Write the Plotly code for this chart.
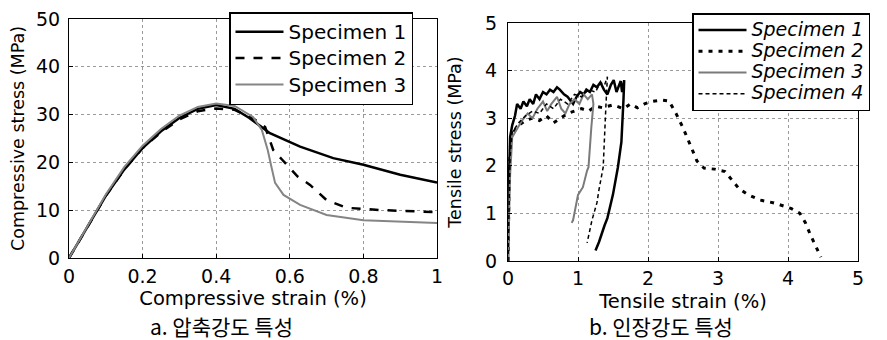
import plotly.graph_objects as go

# ---------------- data: compressive test ----------------
comp_strain_1 = [0, 0.05, 0.1, 0.15, 0.2, 0.25, 0.3, 0.35, 0.4, 0.45, 0.49, 0.546, 0.628, 0.718, 0.8, 0.9, 1.0]
comp_stress_1 = [0, 6.5, 13, 18.5, 23, 26.5, 29.3, 31.2, 32.0, 31.2, 29.3, 26.1, 23.3, 20.9, 19.5, 17.4, 15.8]

comp_strain_2 = [0, 0.05, 0.1, 0.15, 0.2, 0.25, 0.3, 0.35, 0.4, 0.45, 0.5, 0.533, 0.555, 0.58, 0.622, 0.655, 0.7, 0.755, 0.853, 1.0]
comp_stress_2 = [0, 6.5, 13, 18.5, 23, 26.3, 29, 30.7, 31.3, 31.0, 29.2, 27.4, 22.6, 20.5, 17, 15.3, 12.1, 10.5, 10.0, 9.6]

comp_strain_3 = [0, 0.05, 0.1, 0.15, 0.2, 0.25, 0.3, 0.35, 0.4, 0.45, 0.5, 0.524, 0.54, 0.55, 0.56, 0.583, 0.628, 0.7, 0.8, 1.0]
comp_stress_3 = [0, 6.7, 13.3, 19, 23.5, 27, 29.8, 31.6, 32.3, 31.8, 29.5, 26.8, 22.6, 19.1, 15.7, 13.2, 11.1, 9.0, 7.9, 7.3]

# ---------------- data: tensile test ----------------
ten_strain_1 = [0, 0.01, 0.03, 0.06, 0.1, 0.13, 0.18, 0.22, 0.27, 0.31, 0.36, 0.4, 0.45, 0.5, 0.55, 0.6, 0.65,
                0.7, 0.74, 0.8, 0.85, 0.9, 0.93, 0.98, 1.03, 1.08, 1.12, 1.17, 1.22, 1.27, 1.32, 1.37, 1.42,
                1.47, 1.51, 1.55, 1.58, 1.61, 1.63, 1.66, 1.65, 1.62, 1.57, 1.5, 1.42, 1.38, 1.3, 1.25]
ten_stress_1 = [0, 1.5, 2.6, 2.85, 3.05, 3.3, 3.2, 3.35, 3.25, 3.4, 3.3, 3.5, 3.4, 3.55, 3.5, 3.6, 3.55,
                3.65, 3.6, 3.5, 3.45, 3.35, 3.3, 3.45, 3.55, 3.5, 3.6, 3.55, 3.7, 3.65, 3.75, 3.6, 3.5,
                3.7, 3.8, 3.55, 3.65, 3.78, 3.55, 3.8, 3.4, 2.5, 1.97, 1.4, 0.9, 0.75, 0.4, 0.22]

ten_strain_2 = [0, 0.02, 0.05, 0.15, 0.25, 0.35, 0.45, 0.55, 0.65, 0.75, 0.85, 0.95, 1.05, 1.15, 1.25, 1.35,
                1.5, 1.65, 1.75, 1.85, 1.95, 2.05, 2.2, 2.3, 2.4, 2.5, 2.6, 2.7, 2.8, 2.95, 3.1, 3.2, 3.3,
                3.42, 3.6, 3.8, 3.95, 4.05, 4.17, 4.25, 4.32, 4.4, 4.47]
ten_stress_2 = [0, 2.0, 2.65, 2.85, 2.95, 3.0, 2.95, 3.05, 2.9, 3.0, 3.1, 3.15, 3.2, 3.15, 3.25, 3.22,
                3.28, 3.2, 3.3, 3.22, 3.3, 3.35, 3.38, 3.36, 3.1, 2.8, 2.45, 2.1, 1.95, 1.93, 1.88, 1.7, 1.52,
                1.4, 1.28, 1.22, 1.15, 1.1, 1.0, 0.8, 0.55, 0.3, 0.08]

ten_strain_3 = [0, 0.03, 0.06, 0.12, 0.2, 0.28, 0.35, 0.42, 0.5, 0.56, 0.62, 0.7, 0.76, 0.82, 0.88, 0.95,
                1.02, 1.08, 1.14, 1.2, 1.22, 1.19, 1.17, 1.15, 1.13, 1.07, 1.0, 0.93, 0.91]
ten_stress_3 = [0, 1.8, 2.6, 2.75, 2.95, 3.1, 3.0, 3.2, 3.35, 3.15, 3.3, 3.45, 3.2, 3.1, 3.3, 3.4,
                3.3, 3.5, 3.4, 3.5, 3.3, 2.8, 2.3, 1.97, 1.9, 1.55, 1.39, 0.86, 0.8]

ten_strain_4 = [0, 0.03, 0.06, 0.15, 0.25, 0.35, 0.45, 0.55, 0.65, 0.75, 0.85, 0.95, 1.05, 1.15, 1.25,
                1.32, 1.38, 1.42, 1.4, 1.38, 1.36, 1.3, 1.27, 1.2, 1.13]
ten_stress_4 = [0, 2.2, 2.7, 2.9, 3.05, 3.15, 3.1, 3.3, 3.2, 3.4, 3.3, 3.5, 3.45, 3.6, 3.55,
                3.75, 3.7, 3.87, 3.3, 2.6, 1.97, 1.5, 1.22, 0.86, 0.38]

# ---------------- labels ----------------
comp_names = ["Specimen 1", "Specimen 2", "Specimen 3"]
ten_names = ["Specimen 1", "Specimen 2", "Specimen 3", "Specimen 4"]
comp_xticks = [0, 0.2, 0.4, 0.6, 0.8, 1]
comp_yticks = [0, 10, 20, 30, 40, 50]
ten_xticks = [0, 1, 2, 3, 4, 5]
ten_yticks = [0, 1, 2, 3, 4, 5]
comp_xtitle = "Compressive strain (%)"
comp_ytitle = "Compressive stress (MPa)"
ten_xtitle = "Tensile strain (%)"
ten_ytitle = "Tensile stress (MPa)"
caption_a = "a. 압축강도 특성"
caption_b = "b. 인장강도 특성"

W, H = 887, 340
FONT = "DejaVu Sans"

fig = go.Figure()

comp_styles = [dict(color="black", width=2.5),
               dict(color="black", width=2.5, dash="dash"),
               dict(color="#858585", width=2)]
for xs, ys, name, st in zip([comp_strain_1, comp_strain_2, comp_strain_3],
                            [comp_stress_1, comp_stress_2, comp_stress_3], comp_names, comp_styles):
    fig.add_trace(go.Scatter(x=xs, y=ys, name='<span style="font-size:20px">%s</span>' % name,
                             mode="lines", line=st, xaxis="x", yaxis="y", legend="legend"))

ten_styles = [dict(color="black", width=2.5),
              dict(color="black", width=3, dash="4px,6px"),
              dict(color="#7a7a7a", width=2),
              dict(color="black", width=1.5, dash="4px,3px")]
for xs, ys, name, st in zip([ten_strain_1, ten_strain_2, ten_strain_3, ten_strain_4],
                            [ten_stress_1, ten_stress_2, ten_stress_3, ten_stress_4], ten_names, ten_styles):
    fig.add_trace(go.Scatter(x=xs, y=ys, name='<span style="font-size:19px">%s</span>' % name,
                             mode="lines", line=st, xaxis="x2", yaxis="y2", legend="legend2"))

axis_common = dict(showline=True, linecolor="black", linewidth=1, mirror=True, automargin=False,
                   showgrid=True, gridcolor="#9a9a9a", griddash="dot", gridwidth=1,
                   zeroline=False, ticks="inside", ticklen=4, tickcolor="black",
                   tickfont=dict(family=FONT, size=19, color="black"))

fig.update_layout(
    width=W, height=H,
    margin=dict(l=0, r=0, t=0, b=0, pad=0),
    paper_bgcolor="white", plot_bgcolor="white",
    showlegend=True,
    xaxis=dict(axis_common, domain=[69 / W, 437 / W], range=[0, 1], anchor="y",
               tickvals=comp_xticks, ticktext=[str(v) for v in comp_xticks], ticklabelstandoff=1,
               title=dict(text=comp_xtitle, font=dict(family=FONT, size=19.5, color="black"), standoff=2)),
    yaxis=dict(axis_common, domain=[1 - 258 / H, 1 - 19 / H], range=[0, 50], anchor="x",
               tickvals=comp_yticks, ticktext=[str(v) for v in comp_yticks], ticklabelstandoff=4,
               title=dict(text=comp_ytitle, font=dict(family=FONT, size=17.5, color="black"), standoff=6)),
    xaxis2=dict(axis_common, domain=[508 / W, 858 / W], range=[0, 5], anchor="y2",
                tickvals=ten_xticks, ticktext=[str(v) for v in ten_xticks], ticklabelstandoff=0,
                title=dict(text=ten_xtitle, font=dict(family=FONT, size=19.5, color="black"), standoff=6)),
    yaxis2=dict(axis_common, domain=[1 - 261 / H, 1 - 23 / H], range=[0, 5], anchor="x2",
                tickvals=ten_yticks, ticktext=[str(v) for v in ten_yticks], ticklabelstandoff=6,
                title=dict(text=ten_ytitle, font=dict(family=FONT, size=17.5, color="black"), standoff=18)),
    legend=dict(x=229 / W, y=1 - 12 / H, xanchor="left", yanchor="top",
                bgcolor="white", bordercolor="black", borderwidth=1.5, itemwidth=48,
                font=dict(family=FONT, size=18, color="black"), tracegroupgap=0),
    legend2=dict(x=692 / W, y=1 - 13 / H, xanchor="left", yanchor="top",
                 bgcolor="white", bordercolor="black", borderwidth=1.5, itemwidth=48,
                 font=dict(family=FONT, size=14, color="black", style="italic"), tracegroupgap=0),
    annotations=[
        dict(text=caption_a, x=221 / W, y=1 - 326 / H, xref="paper", yref="paper",
             showarrow=False, xanchor="center", yanchor="middle",
             font=dict(family="Noto Sans CJK KR", size=21, color="black")),
        dict(text=caption_b, x=661 / W, y=1 - 326 / H, xref="paper", yref="paper",
             showarrow=False, xanchor="center", yanchor="middle",
             font=dict(family="Noto Sans CJK KR", size=21, color="black")),
    ],
)

fig.write_html("out.html")
